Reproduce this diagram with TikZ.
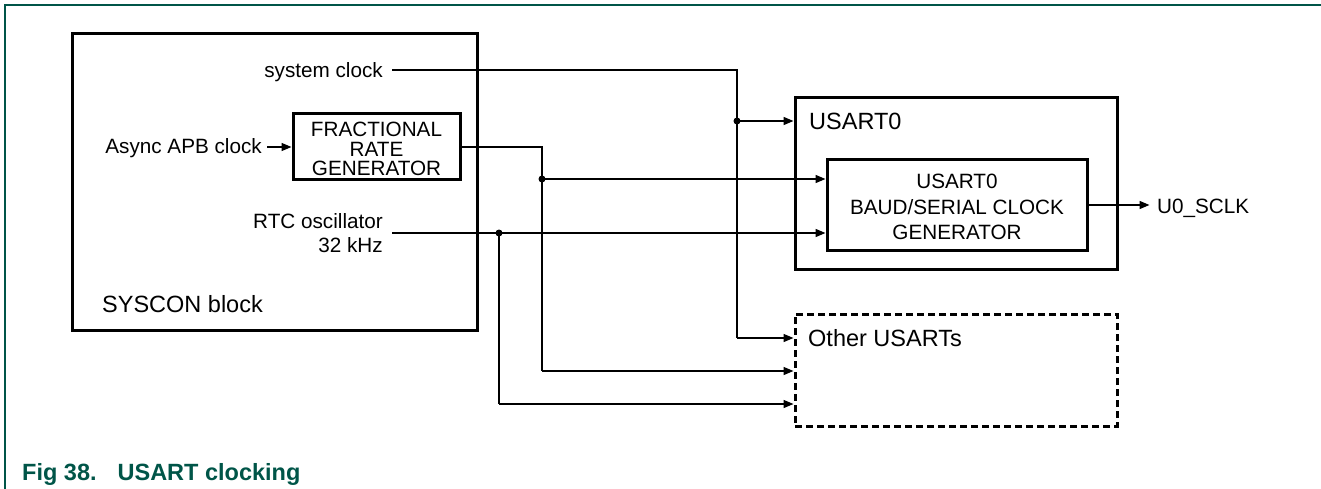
\documentclass[tikz,border=0pt]{standalone}
\usepackage{fontspec}
\setmainfont{Liberation Sans}
\usetikzlibrary{arrows.meta}
\definecolor{nxpgreen}{RGB}{0,85,72}
\tikzset{
  blk/.style={draw=black, line width=3pt, inner sep=0pt},
  dblk/.style={draw=black, line width=3pt, dash pattern=on 7pt off 4pt, inner sep=0pt},
  sig/.style={line width=1.4pt},
  arr/.style={line width=1.4pt, -{Triangle[length=10pt,width=8pt]}},
  dotn/.style={circle, fill=black, inner sep=0pt, minimum size=7pt},
  lbl/.style={inner sep=0pt, font=\fontsize{20.7}{24}\selectfont},
  biglbl/.style={inner sep=0pt, font=\fontsize{23.5}{27}\selectfont},
}
\begin{document}
\begin{tikzpicture}[x=1pt,y=-1pt]
\useasboundingbox (0,0) rectangle (1321,489);
% outer frame
\draw[nxpgreen, line width=1.5pt] (5,489) -- (5,5) -- (1321,5);
% blocks
\node[blk, minimum width=405pt, minimum height=296pt] (syscon) at (274.5,182) {};
\node[blk, minimum width=167pt, minimum height=66pt] (frg) at (376.5,147) {};
\node[blk, minimum width=322pt, minimum height=171pt] (usart) at (956,183.5) {};
\node[blk, minimum width=260pt, minimum height=90pt] (baud) at (957,205) {};
\node[dblk, minimum width=322pt, minimum height=112pt] (other) at (956,370) {};
% block texts
\node[lbl, align=center, font=\fontsize{20.7}{19.5}\selectfont] (frgt) at (376.5,149) {FRACTIONAL\\RATE\\GENERATOR};
\node[lbl, align=center, font=\fontsize{20.7}{25.5}\selectfont] (baudt) at (957,207) {USART0\\BAUD/SERIAL CLOCK\\GENERATOR};
\node[biglbl, anchor=base west] (usartt) at (809,129.4) {USART0};
\node[biglbl, anchor=base west] (othert) at (808,346.4) {Other USARTs};
\node[biglbl, anchor=base west] (syscont) at (102,312) {SYSCON block};
% signal labels
\node[lbl, anchor=base east] (sysclk) at (383,77.4) {system clock};
\node[lbl, anchor=base east] (apb) at (262,153.4) {Async APB clock};
\node[lbl, anchor=east, align=right] (rtc) at (383,233) {RTC oscillator\\32 kHz};
\node[lbl, anchor=base west] (sclk) at (1157,213.4) {U0\_SCLK};
% connection points
\coordinate (s0) at (392,70);
\coordinate (s1) at (737,70);
\node[dotn] (d1) at (737,121) {};
\coordinate (s2) at (737,338);
\coordinate (f1) at (542,147);
\node[dotn] (d2) at (542,179) {};
\coordinate (f2) at (542,371);
\coordinate (r0) at (392,233);
\node[dotn] (d3) at (499,233) {};
\coordinate (r1) at (499,404);
% connectors
\draw[sig] (s0) -- (s1) -- (d1.center);
\draw[sig] (d1.center) -- (s2);
\draw[arr] (s2) -- (other.west |- s2);
\draw[arr] (d1.center) -- (usart.west |- d1);
\draw[arr] (apb.east |- frg.west) ++(5,0) -- (frg.west);
\draw[sig] (frg.east) -- (f1) -- (d2.center) -- (f2);
\draw[arr] (d2.center) -- (baud.west |- d2);
\draw[arr] (f2) -- (other.west |- f2);
\draw[arr] (r0) -- (baud.west |- r0);
\draw[sig] (d3.center) -- (r1);
\draw[arr] (r1) -- (other.west |- r1);
\draw[arr] (baud.east) -- ++(61,0) coordinate (sclkend);
% caption
\node[inner sep=0pt, anchor=base west, text=nxpgreen, font=\bfseries\fontsize{23.5}{27}\selectfont] (cap) at (22,480) {Fig 38.\hspace{21pt}USART clocking};
\end{tikzpicture}
\end{document}
